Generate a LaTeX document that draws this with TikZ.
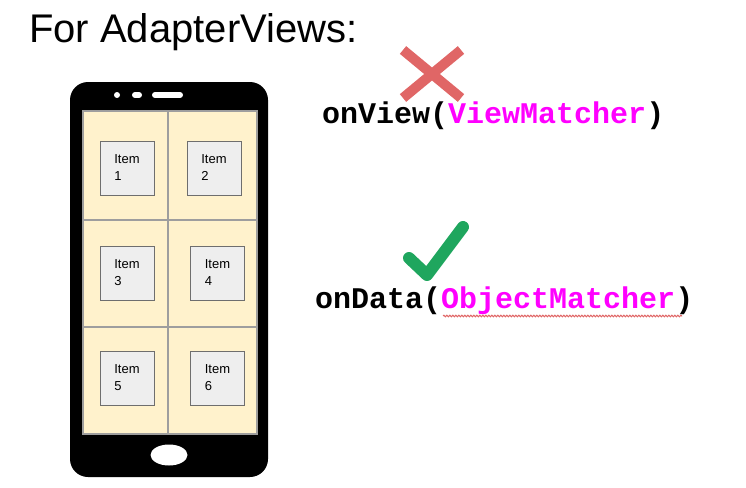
\documentclass[tikz,border=0pt]{standalone}
\usepackage{fontspec}
\setmainfont{Liberation Sans}
\setmonofont{Liberation Mono}
\usetikzlibrary{positioning,decorations.pathmorphing}
\definecolor{screenfill}{HTML}{FFF2CC}
\definecolor{gridline}{HTML}{9E9E9E}
\definecolor{itemfill}{HTML}{EEEEEE}
\definecolor{itemline}{HTML}{6E6E6E}
\definecolor{crossred}{HTML}{E06666}
\definecolor{tickgreen}{HTML}{1FA65E}
\definecolor{matcher}{HTML}{FF00FF}
\tikzstyle{item} = [draw=itemline, fill=itemfill, rectangle, line width=1pt,
minimum width=54pt, minimum height=54pt, align=left, inner sep=0pt,
font=\fontsize{13}{17}\selectfont]
\tikzstyle{code} = [anchor=base west, inner sep=0pt,
font=\fontsize{30}{36}\selectfont\ttfamily\bfseries]

\begin{document}
\begin{tikzpicture}[x=1pt, y=-1pt]
	\useasboundingbox (0,0) rectangle (746,487);
	\node [anchor=base west, inner sep=0pt, font=\fontsize{40}{46}\selectfont] (Title) at (29,43) {For AdapterViews:};
	
	% phone body
	\fill [black, rounded corners=18pt] (70,82) rectangle (268,477);
	\fill [white] (117,95) circle (3);
	\draw [white, line width=6pt, line cap=round] (135,95) -- (139,95);
	\draw [white, line width=6pt, line cap=round] (155,95) -- (180,95);
	\fill [white] (169,455) ellipse (18.5 and 10.5);
	
	% screen
	\draw [gridline, fill=screenfill, line width=2pt] (83,111) rectangle (257,434);
	\draw [gridline, line width=2pt] (168,111) -- (168,434);
	\draw [gridline, line width=2pt] (83,220) -- (257,220);
	\draw [gridline, line width=2pt] (83,327) -- (257,327);
	
	\node [item] (Item1) at (127,168) {Item\\1};
	\node [item] (Item2) at (214,168) {Item\\2};
	\node [item] (Item3) at (127,273) {Item\\3};
	\node [item] (Item4) at (217.5,273) {Item\\4};
	\node [item] (Item5) at (127,378) {Item\\5};
	\node [item] (Item6) at (217.5,378) {Item\\6};
	
	% matchers
	\node [code] (OnView) at (322,123) {onView(\textcolor{matcher}{ViewMatcher})};
	\node [code] (OnData) at (315,308) {onData(\textcolor{matcher}{ObjectMatcher})};
	\draw [crossred, line width=1pt, decorate, decoration={snake, amplitude=0.8pt, segment length=3pt}] (443,316) -- (682,316);
	
	\draw [crossred, line width=10pt] (403,50) -- (461,98);
	\draw [crossred, line width=10pt] (461,50) -- (403,98);
	\draw [tickgreen, line width=12pt, line cap=round, line join=round] (409,258) -- (427,275) -- (463,227);
	
\end{tikzpicture}
\end{document}
